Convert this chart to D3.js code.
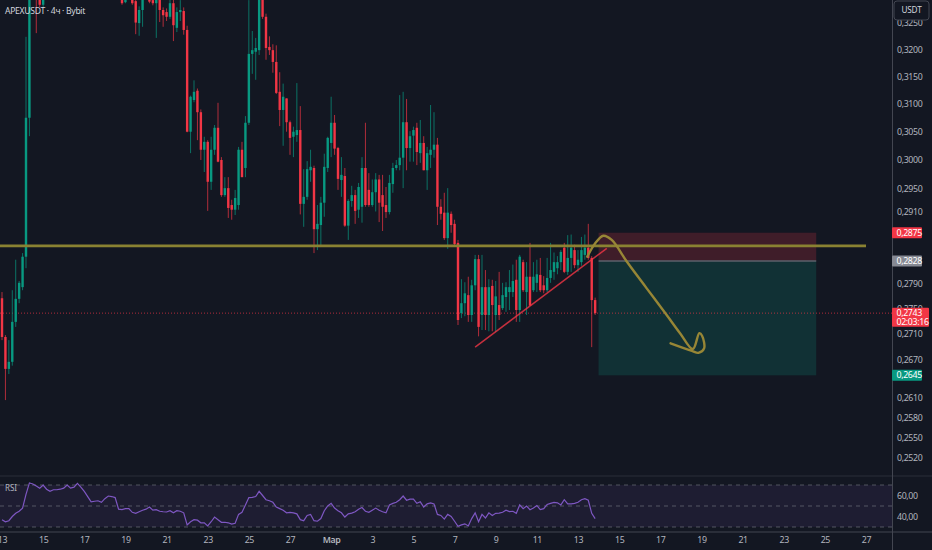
<!DOCTYPE html>
<html lang="ru">
<head>
<meta charset="UTF-8">
<title>APEXUSDT · 4ч · Bybit</title>
<script src="https://cdnjs.cloudflare.com/ajax/libs/d3/7.8.5/d3.min.js"></script>
<style>
  body { margin: 0; background: #131722; overflow: hidden; }
  svg { display: block; font-family: "Noto Sans", Roboto, sans-serif; }
</style>
</head>
<body>
<div id="chart"></div>
<script>
// 4h candles, first one at 13 Feb 00:00 UTC
const firstCandle = Date.UTC(2025, 1, 13, 0, 0);
const candleHours = 4;

// [open, high, low, close]
const ohlc = [
  [0.2767,0.2777,0.2700,0.2705],[0.2705,0.2708,0.2607,0.2655],[0.2655,0.2700,0.2647,0.2666],[0.2666,0.2780,0.2660,0.2729],
  [0.2729,0.2830,0.2721,0.2766],[0.2766,0.2795,0.2759,0.2792],[0.2785,0.2841,0.2780,0.2835],[0.2835,0.3224,0.2816,0.3075],
  [0.3075,0.3372,0.3042,0.3333],[0.3333,0.3520,0.3310,0.3460],[0.3460,0.3490,0.3231,0.3320],[0.3320,0.3330,0.3280,0.3285],
  [0.3285,0.3420,0.3280,0.3400],[0.3400,0.3430,0.3340,0.3360],[0.3360,0.3380,0.3320,0.3345],[0.3345,0.3390,0.3330,0.3370],
  [0.3370,0.3395,0.3350,0.3372],[0.3372,0.3400,0.3355,0.3385],[0.3385,0.3420,0.3370,0.3405],[0.3405,0.3480,0.3400,0.3460],
  [0.3460,0.3470,0.3410,0.3425],[0.3425,0.3460,0.3415,0.3445],[0.3445,0.3530,0.3440,0.3510],[0.3510,0.3520,0.3450,0.3470],
  [0.3470,0.3480,0.3400,0.3415],[0.3415,0.3425,0.3340,0.3355],[0.3355,0.3365,0.3300,0.3310],[0.3310,0.3340,0.3300,0.3318],
  [0.3318,0.3345,0.3305,0.3325],[0.3325,0.3330,0.3300,0.3308],[0.3308,0.3360,0.3302,0.3345],[0.3345,0.3390,0.3335,0.3375],
  [0.3375,0.3385,0.3350,0.3368],[0.3368,0.3375,0.3340,0.3355],[0.3355,0.3360,0.3298,0.3302],[0.3302,0.3310,0.3285,0.3288],
  [0.3290,0.3325,0.3288,0.3315],[0.3315,0.3330,0.3298,0.3305],[0.3305,0.3315,0.3285,0.3288],[0.3292,0.3305,0.3229,0.3251],
  [0.3250,0.3282,0.3226,0.3275],[0.3275,0.3320,0.3243,0.3305],[0.3305,0.3340,0.3298,0.3320],[0.3320,0.3330,0.3288,0.3291],
  [0.3294,0.3310,0.3284,0.3288],[0.3288,0.3310,0.3222,0.3300],[0.3300,0.3305,0.3252,0.3275],[0.3275,0.3280,0.3243,0.3265],
  [0.3271,0.3278,0.3254,0.3262],[0.3262,0.3300,0.3258,0.3288],[0.3288,0.3298,0.3216,0.3246],[0.3241,0.3280,0.3233,0.3271],
  [0.3271,0.3294,0.3254,0.3275],[0.3273,0.3280,0.3228,0.3237],[0.3237,0.3245,0.3049,0.3050],[0.3050,0.3115,0.3012,0.3113],
  [0.3107,0.3143,0.3103,0.3122],[0.3124,0.3128,0.3035,0.3085],[0.3085,0.3090,0.3000,0.3018],[0.3018,0.3041,0.2979,0.3032],
  [0.3032,0.3035,0.2912,0.2962],[0.2962,0.3041,0.2948,0.3018],[0.3018,0.3062,0.3009,0.3057],[0.3057,0.3102,0.2996,0.2997],
  [0.3000,0.3005,0.2936,0.2939],[0.2939,0.2970,0.2936,0.2951],[0.2951,0.2970,0.2900,0.2917],[0.2922,0.2931,0.2897,0.2914],
  [0.2914,0.2948,0.2905,0.2934],[0.2922,0.3023,0.2914,0.3018],[0.3018,0.3032,0.2970,0.2970],[0.2986,0.3078,0.2970,0.3066],
  [0.3066,0.3294,0.3062,0.3192],[0.3192,0.3235,0.3155,0.3199],[0.3196,0.3222,0.3144,0.3203],[0.3199,0.3340,0.3190,0.3314],
  [0.3314,0.3330,0.3258,0.3262],[0.3262,0.3268,0.3181,0.3203],[0.3205,0.3225,0.3190,0.3199],[0.3199,0.3210,0.3157,0.3177],
  [0.3177,0.3208,0.3118,0.3120],[0.3122,0.3158,0.3060,0.3089],[0.3089,0.3137,0.3025,0.3113],[0.3110,0.3110,0.3050,0.3067],
  [0.3067,0.3070,0.3009,0.3039],[0.3041,0.3059,0.3005,0.3050],[0.3044,0.3138,0.3032,0.3053],[0.3053,0.3096,0.2906,0.2924],
  [0.2924,0.2984,0.2885,0.2936],[0.2936,0.2998,0.2931,0.2984],[0.2982,0.3018,0.2962,0.2988],[0.2986,0.2990,0.2841,0.2881],
  [0.2881,0.2922,0.2846,0.2890],[0.2888,0.2936,0.2851,0.2926],[0.2926,0.3011,0.2902,0.2988],[0.2986,0.3041,0.2979,0.3039],
  [0.3030,0.3113,0.3005,0.3066],[0.3066,0.3080,0.3009,0.3020],[0.3021,0.3023,0.2948,0.2967],[0.2965,0.3005,0.2936,0.2974],
  [0.2972,0.2986,0.2885,0.2887],[0.2887,0.2932,0.2863,0.2929],[0.2929,0.2955,0.2919,0.2939],[0.2939,0.2948,0.2890,0.2912],
  [0.2914,0.2960,0.2900,0.2953],[0.2919,0.3005,0.2892,0.2986],[0.2986,0.3066,0.2919,0.2922],[0.2948,0.2977,0.2919,0.2922],
  [0.2922,0.2966,0.2919,0.2944],[0.2944,0.2977,0.2911,0.2966],[0.2966,0.2974,0.2893,0.2926],[0.2939,0.2974,0.2878,0.2919],
  [0.2922,0.2953,0.2900,0.2910],[0.2910,0.2974,0.2906,0.2960],[0.2958,0.2995,0.2943,0.2986],[0.2986,0.3000,0.2982,0.2991],
  [0.2991,0.3116,0.2982,0.3004],[0.3004,0.3122,0.2951,0.3067],[0.3067,0.3109,0.2982,0.3021],[0.3021,0.3051,0.2997,0.3042],
  [0.3043,0.3059,0.2997,0.3053],[0.3057,0.3066,0.2991,0.3014],[0.3012,0.3071,0.2995,0.3030],[0.3030,0.3042,0.2982,0.2982],
  [0.2982,0.3023,0.2948,0.3012],[0.3009,0.3098,0.2986,0.3018],[0.3018,0.3085,0.3004,0.3027],[0.3027,0.3039,0.2888,0.2919],
  [0.2919,0.2932,0.2897,0.2907],[0.2909,0.2943,0.2863,0.2866],[0.2866,0.2951,0.2848,0.2909],[0.2907,0.2911,0.2875,0.2888],
  [0.2890,0.2897,0.2852,0.2856],[0.2858,0.2863,0.2724,0.2732],[0.2743,0.2798,0.2735,0.2759],[0.2759,0.2793,0.2738,0.2775],
  [0.2772,0.2802,0.2729,0.2740],[0.2740,0.2797,0.2729,0.2788],[0.2788,0.2838,0.2780,0.2831],[0.2831,0.2838,0.2706,0.2721],
  [0.2740,0.2838,0.2716,0.2785],[0.2785,0.2813,0.2716,0.2740],[0.2740,0.2798,0.2714,0.2785],[0.2787,0.2797,0.2714,0.2756],
  [0.2740,0.2795,0.2713,0.2770],[0.2756,0.2810,0.2732,0.2740],[0.2751,0.2792,0.2748,0.2772],[0.2769,0.2793,0.2745,0.2785],
  [0.2777,0.2813,0.2748,0.2785],[0.2777,0.2822,0.2769,0.2795],[0.2797,0.2830,0.2729,0.2748],[0.2748,0.2838,0.2729,0.2835],
  [0.2826,0.2830,0.2777,0.2780],[0.2777,0.2826,0.2740,0.2802],[0.2802,0.2858,0.2755,0.2755],[0.2780,0.2826,0.2777,0.2802],
  [0.2792,0.2830,0.2777,0.2806],[0.2805,0.2833,0.2777,0.2780],[0.2788,0.2803,0.2775,0.2780],[0.2780,0.2833,0.2777,0.2800],
  [0.2800,0.2858,0.2792,0.2813],[0.2810,0.2842,0.2797,0.2826],[0.2816,0.2836,0.2806,0.2826],[0.2826,0.2846,0.2813,0.2843],
  [0.2850,0.2858,0.2808,0.2810],[0.2810,0.2871,0.2805,0.2833],[0.2833,0.2872,0.2810,0.2850],[0.2846,0.2855,0.2816,0.2821],
  [0.2821,0.2846,0.2810,0.2830],[0.2826,0.2868,0.2820,0.2846],[0.2838,0.2872,0.2830,0.2850],[0.2850,0.2890,0.2830,0.2833],
  [0.2833,0.2836,0.2689,0.2764],[0.2764,0.2768,0.2740,0.2743]
];

// RSI(14), one value per candle
const rsiValues = [
  37,35,36,40,43,45,48,61,72,71,
  69,67,70,66,64,65.5,65.5,66,67,70,
  67,68,71.5,68,64,59,54,54.5,55,53.5,
  57,59.5,59,58,47,46.5,47.5,47.5,44,43,
  44.5,46,47,49,46,46.5,45,44.5,44.3,45.5,
  43.5,45.5,45,43.5,32,35,37,36.5,34,34,
  31,35,39.5,37,34.5,34.5,34,32.7,33.5,42,
  44,51,58,58.2,59,64,60,56,55,53.5,
  49,47.5,46,43.5,44,43.5,42.5,37,36,41,
  42,36,35.5,38,45.5,50,52.5,48,45.5,43.5,
  39.5,42.5,43.2,44.5,47,48.5,45,44,46,48,
  46,44.5,43.5,51,52.5,53.5,56,59.5,55.5,56.5,
  56.5,52.5,54,49,52,53,52,42,41,37.5,
  42,40,35.5,30.7,32,33,31,38,43.5,35,
  42,38.6,43.5,41,43,43.2,44,46,44.7,45,
  43,51,47.5,50,46.5,48,50.5,46.5,47.5,51.5,
  52.5,53.5,53,51,56,52,52,52.5,53.5,56,
  57,55.5,43,38
];

const priceTicks = [0.3250,0.3200,0.3150,0.3100,0.3050,0.3000,0.2950,0.2910,
                    0.2790,0.2750,0.2710,0.2670,0.2610,0.2580,0.2550,0.2520];
const rsiTicks = [60, 40];
const rsiLevels = [70, 50, 30];

const timeTicks = ["2025-02-13","2025-02-15","2025-02-17","2025-02-19","2025-02-21","2025-02-23",
                   "2025-02-25","2025-02-27","2025-03-01","2025-03-03","2025-03-05","2025-03-07",
                   "2025-03-09","2025-03-11","2025-03-13","2025-03-15","2025-03-17","2025-03-19",
                   "2025-03-21","2025-03-23","2025-03-25","2025-03-27"];

// drawings (days counted from 13 Feb 00:00)
const levelPrice = 0.2853;
const levelEndDay = 42;
const trendDays = [23.0, 29.4];
const trendPrices = [0.2689, 0.2849];
const entryPrice = 0.2828, stopPrice = 0.2875, targetPrice = 0.2645;
const positionDays = [29.0, 39.58];
const arrowDays = [28.45, 28.83, 29.23, 29.64, 30.37, 31.34, 32.31, 32.96, 33.58, 33.9, 34.03, 34.13, 33.85, 33.54, 32.5];
const arrowPrices = [0.2835, 0.2857, 0.2870, 0.2863, 0.2827, 0.2783, 0.2740, 0.2711, 0.2686, 0.2711, 0.2707, 0.2687, 0.2680, 0.2683, 0.2695];
const lastPrice = 0.2743, countdown = "02:03:16";

// ---- layout
const W = 932, H = 550, plotW = 892, mainH = 476, rsiBottom = 532;
const pxPerDay = 576 / 28;
const day = 864e5;
const tAt = d => new Date(firstCandle + d * day);

const x = d3.scaleUtc()
  .domain([tAt(-2 / pxPerDay), tAt((plotW - 2) / pxPerDay)])
  .range([0, plotW]);
const y = d3.scaleLog().domain([0.32942, 0.24938]).range([0, mainH]);
const ry = d3.scaleLinear().domain([70, 30]).range([485, 527]);

const fmt = v => d3.format(".4f")(v).replace(".", ",");
const up = "#089981", down = "#f23645", txt = "#b2b5be";
const fs = 8.8, ls = -0.35;

const svg = d3.select("#chart").append("svg").attr("width", W).attr("height", H);
svg.append("rect").attr("width", W).attr("height", H).attr("fill", "#131722");

svg.append("defs").append("clipPath").attr("id", "mainClip")
  .append("rect").attr("width", plotW).attr("height", mainH);

const main = svg.append("g").attr("clip-path", "url(#mainClip)");

// position tool (short)
const px0 = x(tAt(positionDays[0])), px1 = x(tAt(positionDays[1]));
main.append("rect").attr("x", px0).attr("width", px1 - px0)
  .attr("y", y(stopPrice)).attr("height", y(entryPrice) - y(stopPrice))
  .attr("fill", "rgba(242,54,69,0.2)");
main.append("rect").attr("x", px0).attr("width", px1 - px0)
  .attr("y", y(entryPrice)).attr("height", y(targetPrice) - y(entryPrice))
  .attr("fill", "rgba(8,153,129,0.2)");
main.append("line").attr("x1", px0).attr("x2", px1)
  .attr("y1", y(entryPrice)).attr("y2", y(entryPrice))
  .attr("stroke", "#5d606b").attr("stroke-width", 1.5);

// last price dotted line
main.append("line").attr("x1", 0).attr("x2", plotW)
  .attr("y1", y(lastPrice)).attr("y2", y(lastPrice))
  .attr("stroke", down).attr("stroke-opacity", 0.7).attr("stroke-dasharray", "1,2");

// candles
const candles = main.append("g").selectAll("g").data(ohlc).join("g")
  .attr("transform", (d, i) => `translate(${x(new Date(firstCandle + i * candleHours * 36e5))},0)`);
candles.append("line")
  .attr("y1", d => y(d[1])).attr("y2", d => y(d[2]))
  .attr("stroke", d => d[3] >= d[0] ? up : down).attr("stroke-opacity", 0.7);
candles.append("rect")
  .attr("x", -1.2).attr("width", 2.4)
  .attr("y", d => y(Math.max(d[0], d[3])))
  .attr("height", d => Math.max(1, Math.abs(y(d[0]) - y(d[3]))))
  .attr("fill", d => d[3] >= d[0] ? up : down);

// horizontal level
main.append("line").attr("x1", 0).attr("x2", x(tAt(levelEndDay)))
  .attr("y1", y(levelPrice)).attr("y2", y(levelPrice))
  .attr("stroke", "#8a8232").attr("stroke-width", 2.7);

// rising trend line
main.append("line")
  .attr("x1", x(tAt(trendDays[0]))).attr("y1", y(trendPrices[0]))
  .attr("x2", x(tAt(trendDays[1]))).attr("y2", y(trendPrices[1]))
  .attr("stroke", down).attr("stroke-opacity", 0.8).attr("stroke-width", 1.5);

// hand drawn arrow
const arrowLine = d3.line().x(d => x(tAt(d[0]))).y(d => y(d[1])).curve(d3.curveCatmullRom.alpha(0.5));
main.append("path").attr("d", arrowLine(d3.zip(arrowDays, arrowPrices)))
  .attr("fill", "none").attr("stroke", "#978636")
  .attr("stroke-width", 2.4).attr("stroke-linecap", "round").attr("stroke-linejoin", "round");

// title
svg.append("text").attr("x", 5).attr("y", 10.5).attr("dy", "0.35em")
  .attr("fill", "#d1d4dc").attr("font-size", 8.6).attr("letter-spacing", -0.3)
  .text("APEXUSDT · 4ч · Bybit");

// ---- RSI pane
svg.append("rect").attr("x", 0).attr("width", plotW)
  .attr("y", ry(70)).attr("height", ry(30) - ry(70)).attr("fill", "rgba(126,87,194,0.1)");
svg.append("g").selectAll("line").data(rsiLevels).join("line")
  .attr("x1", 0).attr("x2", plotW).attr("y1", d => ry(d)).attr("y2", d => ry(d))
  .attr("stroke", "#787b86").attr("stroke-opacity", 0.6).attr("stroke-dasharray", "4,4");
const rsiLine = d3.line()
  .x((d, i) => x(new Date(firstCandle + i * candleHours * 36e5)))
  .y(d => ry(d));
svg.append("path").attr("d", rsiLine(rsiValues))
  .attr("fill", "none").attr("stroke", "#7e57c2").attr("stroke-width", 1.2);
svg.append("text").attr("x", 5).attr("y", 488).attr("dy", "0.35em")
  .attr("fill", txt).attr("font-size", 8).text("RSI");

// separators
svg.append("line").attr("x1", 0).attr("x2", W).attr("y1", mainH).attr("y2", mainH).attr("stroke", "#2a2e39");
svg.append("line").attr("x1", 0).attr("x2", W).attr("y1", rsiBottom).attr("y2", rsiBottom).attr("stroke", "#434651");
svg.append("line").attr("x1", plotW + 0.5).attr("x2", plotW + 0.5).attr("y1", 0).attr("y2", H).attr("stroke", "#434651");

// ---- price axis
const yAxis = svg.append("g").attr("transform", `translate(${plotW},0)`)
  .call(d3.axisRight(y).tickValues(priceTicks).tickFormat(fmt).tickSize(0).tickPadding(5));
const rAxis = svg.append("g").attr("transform", `translate(${plotW},0)`)
  .call(d3.axisRight(ry).tickValues(rsiTicks).tickFormat(d => d3.format(".2f")(d).replace(".", ",")).tickSize(0).tickPadding(5));
[yAxis, rAxis].forEach(a => {
  a.select(".domain").remove();
  a.selectAll("text").attr("fill", txt).attr("font-size", fs).attr("letter-spacing", ls)
    .attr("font-family", "Noto Sans, Roboto, sans-serif");
});

// USDT box
svg.append("rect").attr("x", 894).attr("y", 1).attr("width", 35).attr("height", 19).attr("rx", 3)
  .attr("fill", "#131722").attr("stroke", "#434651");
svg.append("text").attr("x", 911.5).attr("y", 10.5).attr("dy", "0.35em").attr("text-anchor", "middle")
  .attr("fill", "#d1d4dc").attr("font-size", 8.2).attr("letter-spacing", -0.2).text("USDT");

// price badges
function badge(price, fill, width, lines) {
  const h = lines.length > 1 ? 19 : 11;
  const top = y(price) - 5.5;
  svg.append("rect").attr("x", plotW).attr("y", top).attr("width", width).attr("height", h)
    .attr("rx", 1).attr("fill", fill);
  lines.forEach((s, k) => {
    svg.append("text").attr("x", plotW + 4.5).attr("y", top + 5.5 + k * 9).attr("dy", "0.35em")
      .attr("fill", "#ffffff").attr("font-size", fs).attr("letter-spacing", ls).text(s);
  });
}
badge(stopPrice, "#f23645", 30, [fmt(stopPrice)]);
badge(entryPrice, "#868993", 30, [fmt(entryPrice)]);
badge(lastPrice, "#f23645", 37, [fmt(lastPrice), countdown]);
badge(targetPrice, "#089981", 30, [fmt(targetPrice)]);

// ---- time axis
const xAxis = svg.append("g").attr("transform", `translate(0,${rsiBottom})`)
  .call(d3.axisBottom(x).tickValues(timeTicks.map(s => new Date(s + "T00:00:00Z")))
    .tickFormat(d => d.getUTCDate() === 1 ? "Мар" : String(d.getUTCDate()))
    .tickSize(0).tickPadding(5));
xAxis.select(".domain").remove();
xAxis.selectAll("text").attr("fill", txt).attr("font-size", fs).attr("letter-spacing", ls)
  .attr("font-family", "Noto Sans, Roboto, sans-serif")
  .attr("font-weight", d => d.getUTCDate() === 1 ? 600 : 400);
</script>
</body>
</html>
